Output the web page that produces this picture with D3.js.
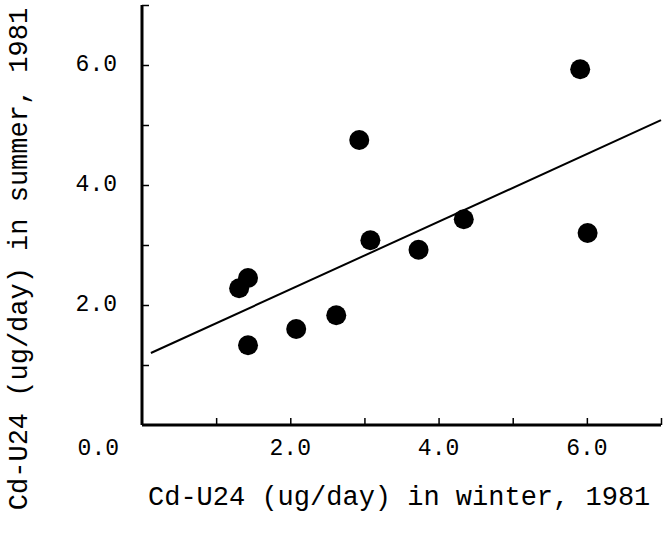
<!DOCTYPE html>
<html>
<head>
<meta charset="utf-8">
<script src="https://cdn.jsdelivr.net/npm/d3@7"></script>
<style>
  body { margin: 0; background: #fff; }
  svg text { font-family: "Liberation Mono", "DejaVu Sans Mono", monospace; fill: #000; }
</style>
</head>
<body>
<div id="chart"></div>
<script>
// Cd-U24 : hiver (x) contre été (y), 1981
const winter = [1.31, 1.43, 1.43, 2.08, 2.62, 2.93, 3.08, 3.73, 4.34, 5.91, 6.01];
const summer = [2.28, 2.45, 1.33, 1.60, 1.83, 4.75, 3.08, 2.92, 3.43, 5.93, 3.20];

// droite de régression (extrémités en unités des données)
const fitX = [0.12, 7.0];
const fitY = [1.20, 5.08];

const tickValues = [1, 2, 3, 4, 5, 6, 7];
const labelValues = [2, 4, 6];

const width = 665, height = 534;

const svg = d3.select('#chart')
    .append('svg')
    .attr('width', width)
    .attr('height', height);

const x = d3.scaleLinear().domain([0, 7]).range([142, 661]);
const y = d3.scaleLinear().domain([0, 7]).range([425, 5]);

// axe X (graduations vers le haut)
const xAxis = svg.append('g')
    .attr('transform', `translate(0,${y(0)})`)
    .call(d3.axisTop(x).tickValues(tickValues).tickSize(7).tickFormat(''));
xAxis.select('.domain').attr('stroke-width', 3).attr('d', `M${x(0)},0H${x(7)}`);
xAxis.selectAll('.tick line').attr('stroke-width', 1.5);

// axe Y (graduations vers la droite)
const yAxis = svg.append('g')
    .attr('transform', `translate(${x(0)},0)`)
    .call(d3.axisRight(y).tickValues(tickValues).tickSize(7).tickFormat(''));
yAxis.select('.domain').attr('stroke-width', 3).attr('d', `M0,${y(7)}V${y(0)}`);
yAxis.selectAll('.tick line').attr('stroke-width', 1.5);

// étiquettes des graduations
svg.selectAll('text.xlab')
    .data(labelValues)
    .enter()
    .append('text')
    .attr('class', 'xlab')
    .attr('x', d => x(d))
    .attr('y', 455)
    .attr('text-anchor', 'middle')
    .style('font-size', '23px')
    .text(d => d.toFixed(1));

svg.append('text')
    .attr('x', x(0) - 23)
    .attr('y', 455)
    .attr('text-anchor', 'end')
    .style('font-size', '23px')
    .text('0.0');

svg.selectAll('text.ylab')
    .data(labelValues)
    .enter()
    .append('text')
    .attr('class', 'ylab')
    .attr('x', x(0) - 25)
    .attr('y', d => y(d) + 6)
    .attr('text-anchor', 'end')
    .style('font-size', '23px')
    .text(d => d.toFixed(1));

// droite
svg.append('line')
    .attr('x1', x(fitX[0]))
    .attr('y1', y(fitY[0]))
    .attr('x2', x(fitX[1]))
    .attr('y2', y(fitY[1]))
    .attr('stroke', '#000')
    .attr('stroke-width', 2);

// points
svg.selectAll('circle')
    .data(winter.map((w, i) => [w, summer[i]]))
    .enter()
    .append('circle')
    .attr('cx', d => x(d[0]))
    .attr('cy', d => y(d[1]))
    .attr('r', 10)
    .attr('fill', '#000');

// titres des axes
svg.append('text')
    .attr('x', 148)
    .attr('y', 505)
    .style('font-size', '27px')
    .text('Cd-U24 (ug/day) in winter, 1981');

svg.append('text')
    .attr('transform', 'translate(27,259) rotate(-90)')
    .attr('text-anchor', 'middle')
    .style('font-size', '27px')
    .text('Cd-U24 (ug/day) in summer, 1981');
</script>
</body>
</html>
